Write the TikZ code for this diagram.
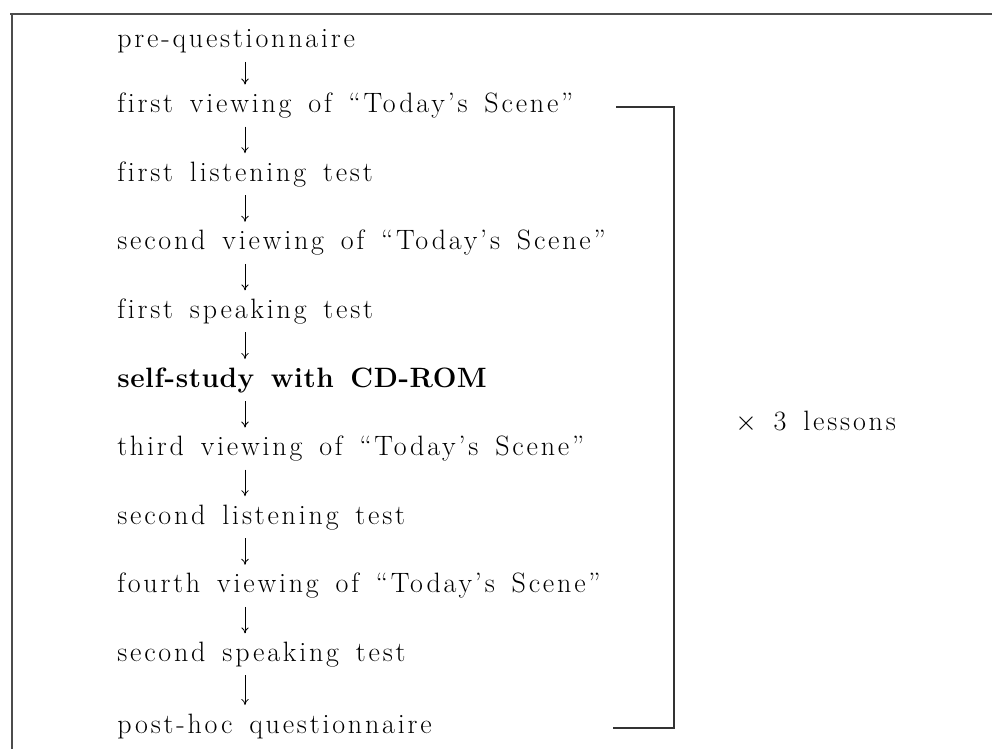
\documentclass[tikz,border=0pt]{standalone}
\usepackage{fontspec}
\setmainfont{Latin Modern Roman}[LetterSpace=10,WordSpace=1.5,Ligatures=NoCommon,BoldFeatures={LetterSpace=2}]
\usetikzlibrary{arrows.meta}
\begin{document}
\begin{tikzpicture}[x=0.75pt,y=-0.75pt,
  lbl/.style={anchor=base west,inner sep=0pt,font=\fontsize{21}{25}\selectfont},
  arr/.style={-{To[length=4.5pt,width=5.5pt]},line width=0.6pt,shorten <=10.5pt,shorten >=21pt},
  frame/.style={line width=1pt,black!70},
  brk/.style={line width=1pt,black!80}]
\useasboundingbox (0,0) rectangle (992,749);
\draw[frame] (10,14) -- (992,14);
\draw[frame] (12,14) -- (12,749);
\node[lbl] (n1) at (117,48) {pre-questionnaire};
\node[lbl] (n2) at (117,112.6) {first viewing of “Today's Scene”};
\node[lbl] (n3) at (117,181.2) {first listening test};
\node[lbl] (n4) at (117,249.8) {second viewing of “Today's Scene”};
\node[lbl] (n5) at (117,318.4) {first speaking test};
\node[lbl] (n6) at (117,387) {\bfseries self-study with CD-ROM};
\node[lbl] (n7) at (117,455.6) {third viewing of “Today's Scene”};
\node[lbl] (n8) at (117,524.2) {second listening test};
\node[lbl] (n9) at (117,592.8) {fourth viewing of “Today's Scene”};
\node[lbl] (n10) at (117,661.4) {second speaking test};
\node[lbl] (n11) at (117,733) {post-hoc questionnaire};
\coordinate (ax) at (245,0);
\foreach \a/\b in {n1/n2,n2/n3,n3/n4,n4/n5,n5/n6,n6/n7,n7/n8,n8/n9,n9/n10,n10/n11}{
  \draw[arr] (\a.base -| ax) -- (\b.base -| ax);
}
\coordinate (t1) at (616,107);
\coordinate (t2) at (674,107);
\coordinate (b2) at (674,728);
\coordinate (b1) at (613,728);
\draw[brk] (t1) -- (t2) -- (b2) -- (b1);
\node[lbl] (rep) at (735,430) {$\times$\ 3 lessons};
\end{tikzpicture}
\end{document}
